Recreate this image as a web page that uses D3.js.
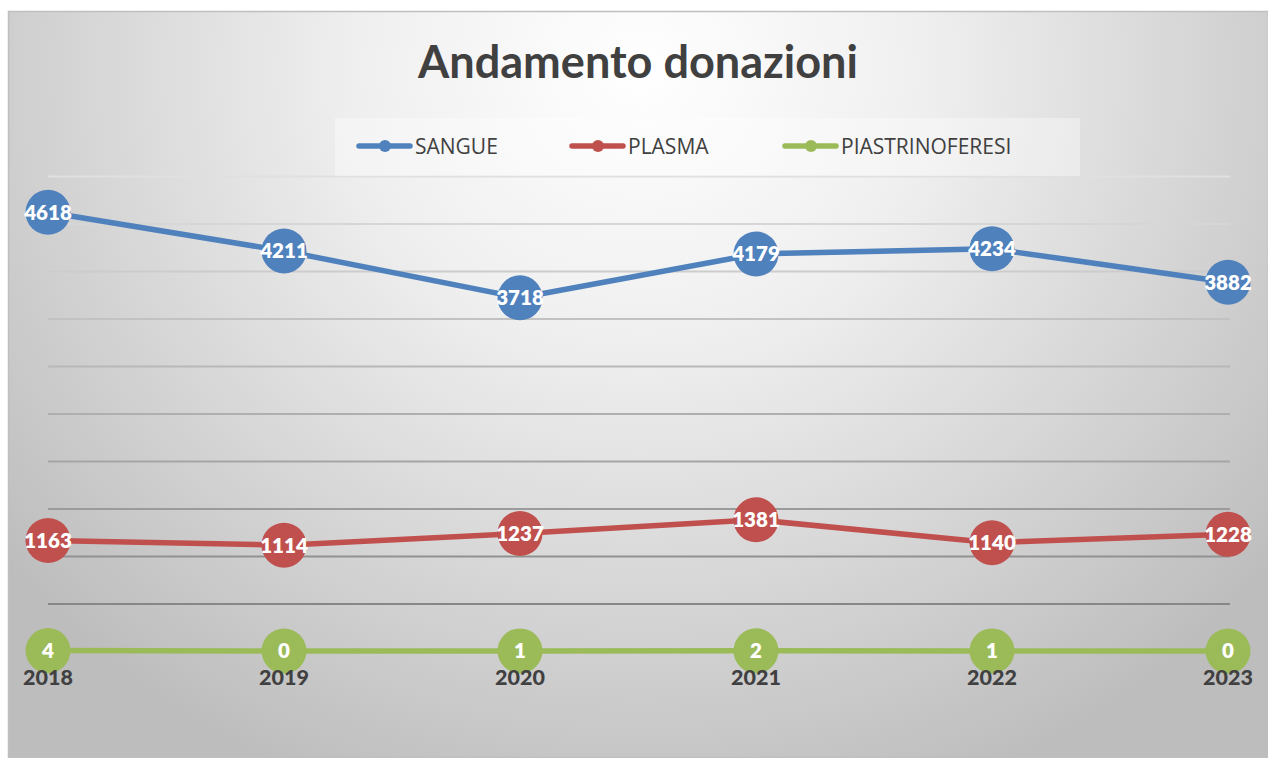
<!DOCTYPE html>
<html><head><meta charset="utf-8">
<script src="https://cdn.jsdelivr.net/npm/d3@7"></script>
<style>
html,body{margin:0;padding:0;background:#fff;}
svg{display:block;}
</style>
</head><body>
<svg id="chart" width="1268" height="758"></svg>
<script>
const years = ["2018","2019","2020","2021","2022","2023"];
const sangue = [4618, 4211, 3718, 4179, 4234, 3882];
const plasma = [1163, 1114, 1237, 1381, 1140, 1228];
const piastrinoferesi = [4, 0, 1, 2, 1, 0];
const seriesNames = ["SANGUE", "PLASMA", "PIASTRINOFERESI"];
const seriesColors = ["#4F81BD", "#C0504D", "#9BBB59"];
const yTicks = [0, 500, 1000, 1500, 2000, 2500, 3000, 3500, 4000, 4500, 5000];

const svg = d3.select("#chart");
const W = 1268, H = 758;
const defs = svg.append("defs");
const bg = defs.append("radialGradient").attr("id","bg")
  .attr("gradientUnits","userSpaceOnUse")
  .attr("cx",640).attr("cy",70).attr("r",820)
  .attr("gradientTransform","translate(640,70) scale(1,0.95) translate(-640,-70)");
bg.append("stop").attr("offset","0").attr("stop-color","#ffffff");
bg.append("stop").attr("offset","0.35").attr("stop-color","#efefef");
bg.append("stop").attr("offset","1").attr("stop-color","#bdbdbd");

svg.append("rect").attr("x",8.5).attr("y",11.5).attr("width",W-8).attr("height",H-12)
  .attr("fill","url(#bg)").attr("stroke","#bfbfbf").attr("stroke-width",1.5);

const x = d3.scalePoint().domain(years).range([48, 1228]);
const y = d3.scaleLinear().domain([0, 5000]).range([651, 176]);

// gridlines, shaded from light at top to darker at bottom
const gridShade = d3.scaleLinear().domain([176, 604]).range(["#e0e0e0", "#878787"]).interpolate(d3.interpolateRgb);
const gridAxis = d3.axisLeft(y).tickValues(yTicks.filter(d=>d>0)).tickSize(-(1230-48)).tickFormat("");
const gAx = svg.append("g").attr("transform","translate(48,0)").call(gridAxis);
gAx.select(".domain").remove();
gAx.selectAll(".tick line").attr("stroke", d => gridShade(y(d))).attr("stroke-width",2);

// x axis line
svg.append("line").attr("x1",48).attr("x2",1230).attr("y1",y(0)+1.5).attr("y2",y(0)+1.5)
  .attr("stroke","#3a3a3a").attr("stroke-width",1.2);

// legend box
svg.append("rect").attr("x",335).attr("y",118).attr("width",745).attr("height",58)
  .attr("fill","#ffffff").attr("fill-opacity",0.35);

const fontMain = "Lato, 'Open Sans', sans-serif";

// title
const title = svg.append("text").attr("x",638).attr("y",78).attr("text-anchor","middle")
  .attr("font-family",fontMain).attr("font-weight","700").attr("font-size",40)
  .attr("fill","#404040").text("Andamento donazioni");
const tl = title.node().getComputedTextLength();
if (tl > 0) title.attr("font-size", 40 * 440 / tl);

// lines
const data = [sangue, plasma, piastrinoferesi];
const line = d3.line().x((d,i)=>x(years[i])).y(d=>y(d));
data.forEach((vals, si) => {
  svg.append("path").datum(vals).attr("d", line).attr("fill","none")
    .attr("stroke", seriesColors[si]).attr("stroke-width",5.5).attr("stroke-linejoin","round");
});
data.forEach((vals, si) => {
  const g = svg.append("g");
  g.selectAll("circle").data(vals).join("circle")
    .attr("cx",(d,i)=>x(years[i])).attr("cy",d=>y(d)).attr("r",22.5)
    .attr("fill", seriesColors[si]);
  g.selectAll("text").data(vals).join("text")
    .attr("x",(d,i)=>x(years[i])).attr("y",d=>y(d)).attr("dy","0.36em")
    .attr("text-anchor","middle").attr("font-family",fontMain).attr("font-weight","800")
    .attr("font-size",20.5).attr("fill","#ffffff").text(d=>d);
});

// x labels
svg.append("g").selectAll("text").data(years).join("text")
  .attr("x",d=>x(d)).attr("y",685).attr("text-anchor","middle")
  .attr("font-family",fontMain).attr("font-weight","900").attr("font-size",21.5)
  .attr("fill","#404040").text(d=>d);

// legend
const legX = [357, 570, 783];
seriesNames.forEach((n, i) => {
  const g = svg.append("g").attr("transform",`translate(${legX[i]},146)`);
  g.append("line").attr("x1",2).attr("x2",53).attr("stroke",seriesColors[i])
    .attr("stroke-width",5.5).attr("stroke-linecap","round");
  g.append("circle").attr("cx",28).attr("r",6).attr("fill",seriesColors[i]);
  g.append("text").attr("x",58).attr("y",0).attr("dy","0.36em")
    .attr("font-family","'Liberation Sans Narrow', 'Open Sans', sans-serif").attr("font-size",21)
    .attr("fill","#404040").text(n);
});
</script>
</body></html>
